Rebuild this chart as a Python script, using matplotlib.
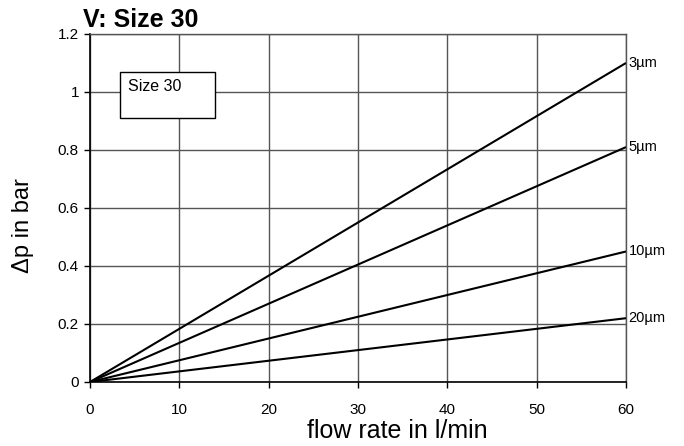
import matplotlib
matplotlib.use('Agg')
import matplotlib.pyplot as plt
from matplotlib.patches import Rectangle

plt.rcParams['font.family'] = ['Liberation Sans', 'DejaVu Sans']

flow = [0, 60]
series = ['3µm', '5µm', '10µm', '20µm']
dp_end = [1.10, 0.81, 0.45, 0.22]
x_ticks = [0, 10, 20, 30, 40, 50, 60]
y_ticks = [0, 0.2, 0.4, 0.6, 0.8, 1, 1.2]
y_tick_labels = ['0', '0.2', '0.4', '0.6', '0.8', '1', '1.2']

fig = plt.figure(figsize=(6.84, 4.46), dpi=100)
ax = fig.add_axes([0.1316, 0.1435, 0.7836, 0.7803])

for lab, v in zip(series, dp_end):
    ax.plot(flow, [0, v], color='black', lw=1.5, solid_capstyle='butt', zorder=3)
    ax.text(60.3, v, lab, fontsize=10.5, va='center', ha='left')

ax.set_xlim(0, 60)
ax.set_ylim(0, 1.2)
ax.set_xticks(x_ticks)
ax.set_yticks(y_ticks)
ax.set_yticklabels(y_tick_labels)
ax.grid(True, color='#555555', lw=1.0)
ax.tick_params(direction='out', length=4, width=1, colors='black', labelsize=11, pad=4)
ax.tick_params(axis='x', pad=11)
for s in ['left', 'bottom']:
    ax.spines[s].set_color('black')
    ax.spines[s].set_linewidth(1.2)
for s in ['top', 'right']:
    ax.spines[s].set_color('#555555')
    ax.spines[s].set_linewidth(1.0)

ax.add_patch(Rectangle((3.36, 0.91), 10.6, 0.16, facecolor='white',
                       edgecolor='black', lw=1.0, zorder=4))
ax.text(4.3, 1.02, 'Size 30', fontsize=11.5, va='center', ha='left', zorder=5)

ax.set_xlabel('flow rate in l/min', fontsize=18, va='center')
ax.xaxis.set_label_coords(0.573, -0.141)
ax.set_ylabel('Δp in bar', fontsize=17, va='center')
ax.yaxis.set_label_coords(-0.125, 0.45)
fig.text(0.121, 0.955, 'V: Size 30', fontsize=18, fontweight='bold', va='center')

fig.savefig('out.png', dpi=100)
